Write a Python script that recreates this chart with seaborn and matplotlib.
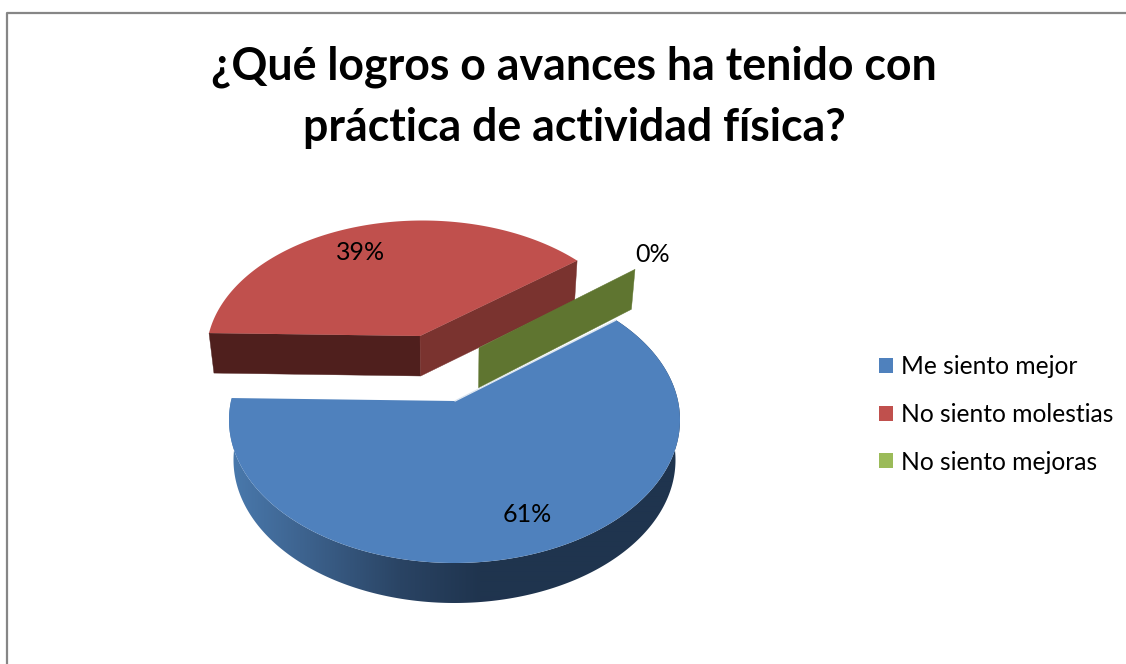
import numpy as np
import matplotlib
matplotlib.use("Agg")
import matplotlib.pyplot as plt
from matplotlib.patches import Patch, Polygon
from matplotlib.colors import to_rgb
import seaborn as sns

categories = ["Me siento mejor", "No siento molestias", "No siento mejoras"]
values = [61, 39, 0]
labels = ["61%", "39%", "0%"]
title = "¿Qué logros o avances ha tenido con\npráctica de actividad física?"

sns.set_theme(style="white")
plt.rcParams["font.family"] = ["Lato", "DejaVu Sans"]
colores = sns.color_palette(["#4F81BD", "#C0504D", "#9BBB59"])

# geometria del pastel en pixeles de la figura
apex = np.array([455.0, 401.0])
centro = np.array([454.5, 420.0])
rx, ry = 225.5, 143.0
k = ry / rx
inicio = 38.4
prof = 40.0
enc = 0.98

# gradiente de la pared azul segun x
grad_x = [228, 300, 400, 480, 700]
grad_c = [to_rgb(c) for c in ["#4A7AAE", "#3E6490", "#2A4464", "#1F344E", "#1F344E"]]


def borde(theta):
    # punto del borde de la elipse sobre el rayo que sale del vertice
    d = np.array([np.cos(theta), -k * np.sin(theta)])
    p = apex - centro
    a = (d[0] / rx) ** 2 + (d[1] / ry) ** 2
    b = 2 * (p[0] * d[0] / rx ** 2 + p[1] * d[1] / ry ** 2)
    c = (p[0] / rx) ** 2 + (p[1] / ry) ** 2 - 1
    t = (-b + np.sqrt(b * b - 4 * a * c)) / (2 * a)
    return apex + t * d


def abajo(p):
    return np.array([centro[0] + (p[0] - centro[0]) * enc, p[1] + prof])


def arco(a0, a1, n=400):
    ang = np.radians(np.linspace(a0, a1, n))
    return np.array([borde(t) for t in ang])


fig, ax = plt.subplots(figsize=(11.26, 6.64), dpi=100)
ax.set_position([0, 0, 1, 1])

cum = np.cumsum([0] + values) / sum(values) * 360
ang_a = inicio - cum[:-1]
ang_b = inicio - cum[1:]

# rebanada azul: pared con gradiente recortado y cara superior
arc = arco(ang_a[0], ang_b[0])
fondo = np.array([abajo(p) for p in arc])
xs = np.arange(220, 700)
img = np.array([[np.interp(x, grad_x, [c[j] for c in grad_c]) for j in range(3)] for x in xs])[None, :, :]
im = ax.imshow(img, extent=[220, 700, 620, 300], aspect="auto", zorder=1, interpolation="bilinear")
pared = Polygon(np.vstack([arc, fondo[::-1]]), closed=True, transform=ax.transData,
                facecolor="none", edgecolor="none")
ax.add_patch(pared)
im.set_clip_path(pared)
cara = np.vstack([apex, arc])
ax.fill(cara[:, 0], cara[:, 1], color=colores[0], lw=0, zorder=2)
ax.plot([apex[0], arc[0, 0]], [apex[1], arc[0, 1]], color="#DCE6F1", lw=1.0, zorder=2)

# rebanada roja separada, mas chica por la perspectiva
vert = np.array([420.0, 336.0])
arc = arco(ang_a[1], ang_b[1])
arc = np.array([422.5, 353.5]) + (arc - centro) * np.array([0.958, 0.93])
for p, col in [(arc[0], "#4F1F1D"), (arc[-1], "#7A332F")]:
    q = np.array([vert, p, abajo(p), abajo(vert)])
    ax.fill(q[:, 0], q[:, 1], color=col, lw=0.3, zorder=3)
cara = np.vstack([vert, arc])
ax.fill(cara[:, 0], cara[:, 1], color=colores[1], lw=0, zorder=4)

# rebanada verde: 0%, solo se ve la pared
vert = apex + np.array([17.5, -50])
fuera = vert + (borde(np.radians(ang_a[2])) - apex) * 1.01
ini = vert + (fuera - vert) * 0.04
q = np.array([ini, fuera, abajo(fuera), abajo(ini)])
ax.fill(q[:, 0], q[:, 1], color="#5F7530", lw=0.3, zorder=5)

# etiquetas de datos
pos_x = [527, 361, 653]
pos_y = [515, 252, 254]
for s, x, y in zip(labels, pos_x, pos_y):
    ax.text(x, y, s, ha="center", va="center", fontsize=18, color="black", zorder=6)

ax.text(574, 97, title, ha="center", va="center", fontsize=32.1, fontweight="bold",
        color="black", linespacing=1.55)

handles = [Patch(facecolor=c, edgecolor="none") for c in colores]
ax.legend(handles, categories, loc="center left", bbox_to_anchor=(879 / 1126, 1 - 414.5 / 664),
          frameon=False, fontsize=17.7, labelcolor="black", handlelength=0.57, handleheight=0.57,
          handletextpad=0.33, labelspacing=1.0, borderpad=0, borderaxespad=0)

# marco del grafico
ax.plot([6.5, 6.5, 1126], [664, 12.5, 12.5], color="#868686", lw=1.6, clip_on=False)

ax.set_xlim(0, 1126)
ax.set_ylim(664, 0)
ax.axis("off")

fig.savefig("out.png", dpi=100)
